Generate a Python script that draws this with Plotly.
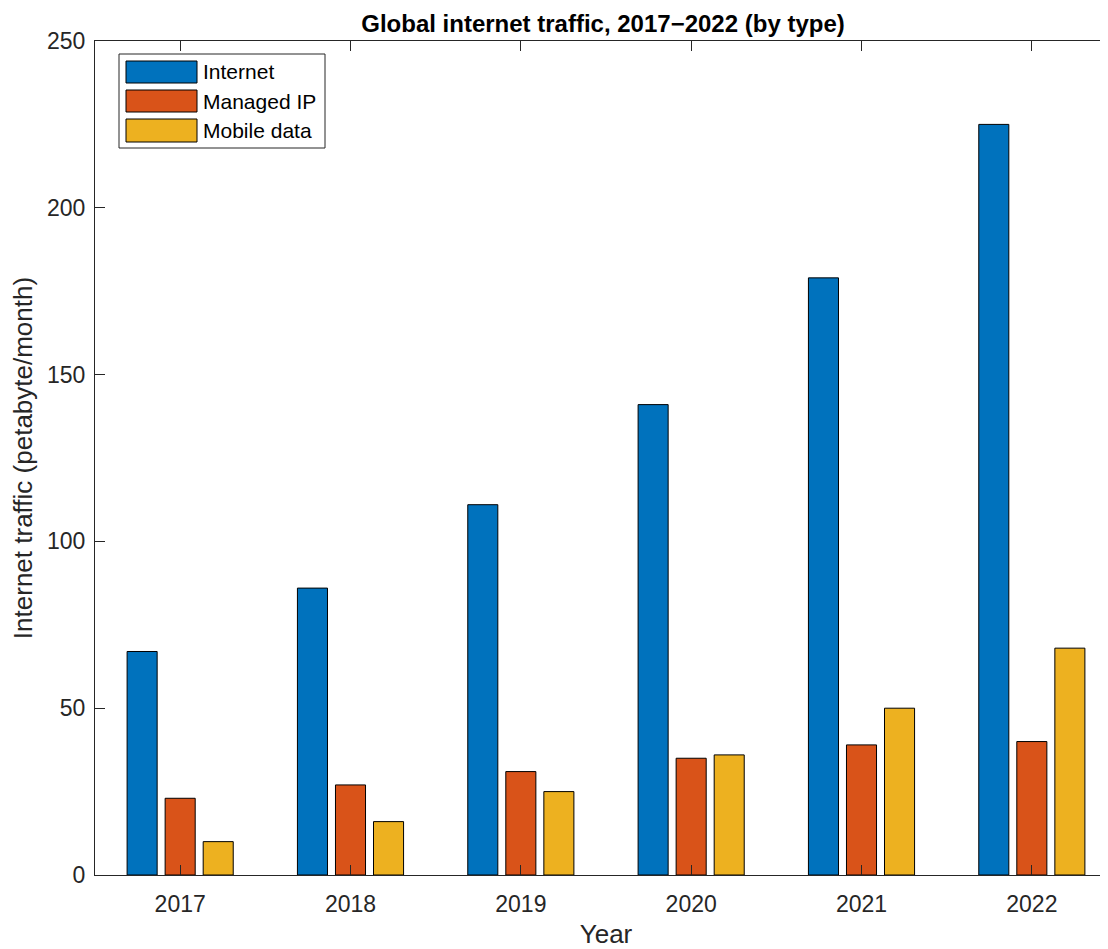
import plotly.graph_objects as go

years = [2017, 2018, 2019, 2020, 2021, 2022]
series_names = ["Internet", "Managed IP", "Mobile data"]
internet = [67, 86, 111, 141, 179, 225]
managed_ip = [23, 27, 31, 35, 39, 40]
mobile_data = [10, 16, 25, 36, 50, 68]
colors = ["#0072BD", "#D95319", "#EDB120"]
y_ticks = [0, 50, 100, 150, 200, 250]

# page offset of the figure div (default body margin)
OFF = 8
# plot area in page pixels
PX0, PX1, PY0, PY1 = 95, 1117, 41, 875
W, H = PX1 - OFF, 949 - OFF
L, R, T = PX0 - OFF, 0, PY0 - OFF
B = H - (PY1 - OFF)
pw, ph = PX1 - PX0, PY1 - PY0

def px_x(x):
    return (x - PX0) / pw

def px_y(y):
    return (PY1 - y) / ph

fig = go.Figure()
for name, vals, c in zip(series_names, [internet, managed_ip, mobile_data], colors):
    fig.add_trace(go.Bar(x=years, y=vals, name=name, marker=dict(color=c, line=dict(color="black", width=1)),
                         showlegend=False))

font_family = "Liberation Sans, Arial, sans-serif"
axis_col = "#262626"

shapes = []
annotations = []
shapes.append(dict(type="rect", xref="paper", yref="paper", x0=px_x(119), x1=px_x(325), y0=px_y(148), y1=px_y(54),
                   line=dict(color=axis_col, width=1), fillcolor="white", layer="above"))
rows = [(61, 83), (90, 112), (119, 142)]
for (y0, y1), name, c in zip(rows, series_names, colors):
    shapes.append(dict(type="rect", xref="paper", yref="paper", x0=px_x(126), x1=px_x(197), y0=px_y(y1), y1=px_y(y0),
                       line=dict(color="black", width=1), fillcolor=c, layer="above"))
    annotations.append(dict(xref="paper", yref="paper", x=px_x(201), y=px_y((y0 + y1) / 2), text=name,
                            showarrow=False, xanchor="left", yanchor="middle",
                            font=dict(family=font_family, size=21, color="black")))

fig.update_layout(
    width=W, height=H,
    margin=dict(l=L, r=R, t=T, b=B, pad=0),
    paper_bgcolor="white", plot_bgcolor="white",
    barmode="group", bargap=0.33, bargroupgap=0.21,
    title=dict(text="<b>Global internet traffic, 2017\u22122022 (by type)</b>", x=(603 - OFF) / W, xanchor="center",
               y=1 - (24 - OFF) / H, yanchor="middle", font=dict(family=font_family, size=24, color="black")),
    font=dict(family=font_family, color=axis_col),
    shapes=shapes, annotations=annotations,
    xaxis=dict(range=[2016.5, 2022.5], tickmode="array", tickvals=years, ticktext=[str(y) for y in years],
               ticks="inside", ticklen=10, tickwidth=1, tickcolor=axis_col, showline=True, linecolor=axis_col,
               linewidth=1, mirror="ticks", showgrid=False, zeroline=False, ticklabelstandoff=8,
               tickfont=dict(size=23, color=axis_col),
               title=dict(text="Year", font=dict(size=26, color=axis_col), standoff=10)),
    yaxis=dict(range=[0, 250], tickmode="array", tickvals=y_ticks, ticks="inside", ticklen=10, tickwidth=1,
               tickcolor=axis_col, showline=True, linecolor=axis_col, linewidth=1, mirror="ticks",
               showgrid=False, zeroline=False, ticklabelstandoff=4, tickfont=dict(size=23, color=axis_col),
               title=dict(text="Internet traffic (petabyte/month)", font=dict(size=26, color=axis_col), standoff=8)),
)

fig.write_html("out.html")
